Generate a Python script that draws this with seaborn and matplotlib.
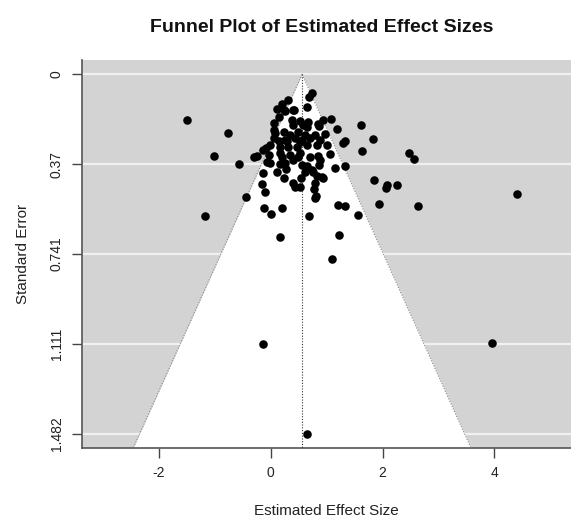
import matplotlib
matplotlib.use("Agg")
import matplotlib.pyplot as plt
import seaborn as sns
import numpy as np
import pandas as pd

# effect sizes and standard errors
effect = [
    -1.49, -0.76, -1.01, -0.56, -1.18, -0.44, -0.12, 0.01, 0.20, 0.17,
    0.69, 1.21, 1.33, 1.22, 1.56, 1.10, 1.93, 1.85, 2.07, 2.08,
    2.25, 2.63, 2.47, 2.56, 4.41, 1.62, 1.82, 1.63, -0.14, 3.96,
    0.65,
    0.74, 0.68, 0.65, 0.30, 0.20, 0.11, 0.23, 0.40, 0.15, 0.05,
    0.38, 0.52, 0.40, 0.58, 0.65, 0.94, 1.07, 0.87, 1.19, 1.33,
    1.30, 0.08, 0.23, 0.35, 0.49, 0.61, 0.79, 0.97, 0.05, 0.26,
    0.43, 0.55, 0.70, 0.88, -0.01, 0.17, 0.31, 0.47, 0.65, 0.83,
    1.00, -0.08, -0.14, -0.25, -0.30, -0.04, 0.17, 0.35, 0.52, 0.70,
    0.85, 1.06, -0.02, 0.17, 0.26, 0.55, 0.65, 0.87, 1.33, 1.15,
    -0.13, 0.11, 0.61, 0.76, 0.24, 0.54, 0.83, 0.94, -0.16, 0.40,
    0.43, 0.52, 0.79, 0.78, -0.10, 0.81, 0.73, 0.64, 0.28,
    0.26, 0.41, 0.67, 0.29, 0.14, 0.52, 0.20, 0.49, 0.40, -0.07,
    0.88, 0.91, 0.79, 0.84, 0.05,
]
std_err = [
    0.189, 0.242, 0.337, 0.369, 0.584, 0.505, 0.550, 0.577, 0.550, 0.672,
    0.584, 0.540, 0.542, 0.663, 0.581, 0.762, 0.534, 0.437, 0.467, 0.457,
    0.456, 0.542, 0.325, 0.349, 0.493, 0.211, 0.266, 0.316, 1.111, 1.108,
    1.482,
    0.079, 0.094, 0.136, 0.105, 0.122, 0.142, 0.146, 0.146, 0.174, 0.201,
    0.187, 0.194, 0.208, 0.208, 0.219, 0.187, 0.183, 0.215, 0.225, 0.274,
    0.284, 0.242, 0.236, 0.249, 0.236, 0.249, 0.249, 0.247, 0.263, 0.270,
    0.263, 0.270, 0.263, 0.270, 0.291, 0.298, 0.298, 0.298, 0.291, 0.291,
    0.291, 0.305, 0.311, 0.335, 0.339, 0.332, 0.325, 0.332, 0.325, 0.339,
    0.335, 0.329, 0.366, 0.371, 0.366, 0.373, 0.380, 0.373, 0.378, 0.387,
    0.408, 0.404, 0.404, 0.404, 0.428, 0.426, 0.418, 0.428, 0.453, 0.449,
    0.463, 0.463, 0.449, 0.473, 0.484, 0.502, 0.394, 0.385, 0.389,
    0.153, 0.149, 0.197, 0.277, 0.277, 0.280, 0.339, 0.342, 0.353, 0.360,
    0.355, 0.424, 0.510, 0.205, 0.229,
]
df = pd.DataFrame({"effect": effect, "se": std_err})

center = 0.56
se_ticks = [0, 0.3705, 0.741, 1.1115, 1.482]
se_labels = ["0", "0.37", "0.741", "1.111", "1.482"]
x_ticks = [-2, 0, 2, 4]

sns.set_style("ticks")
plt.rcParams["font.family"] = ["Liberation Sans", "DejaVu Sans"]
plt.rcParams["axes.unicode_minus"] = False

fig = plt.figure(figsize=(5.71, 5.20), dpi=100)
ax = fig.add_axes([0.1436, 0.1385, 0.8564, 0.7461])

xlim = (-3.376, 5.37)
ylim = (1.541, -0.059)
ax.set_xlim(xlim)
ax.set_ylim(ylim)
ax.set_facecolor("#d3d3d3")

# white grid lines at the SE ticks, then the funnel on top
for t in se_ticks:
    ax.axhline(t, color="#f0f0f0", lw=1.6, zorder=1)

se_bottom = ylim[0]
se_line = np.array([0, se_bottom])
ax.fill_betweenx(se_line, center - 1.96 * se_line, center + 1.96 * se_line,
                 color="white", zorder=2, lw=0)
ax.plot(center - 1.96 * se_line, se_line, ls=(0, (1, 1.5)), color="#8a8a8a", lw=0.8, zorder=3)
ax.plot(center + 1.96 * se_line, se_line, ls=(0, (1, 1.5)), color="#8a8a8a", lw=0.8, zorder=3)
ax.plot([center, center], [0, se_bottom], ls=(0, (1, 1.5)), color="#333333", lw=0.8, zorder=3)

sns.scatterplot(data=df, x="effect", y="se", ax=ax, color="black", s=38,
                edgecolor="black", linewidth=0, zorder=4, legend=False)
ax.set_xlim(xlim)
ax.set_ylim(ylim)

ax.set_yticks(se_ticks)
ax.set_yticklabels(se_labels, rotation=90, va="center")
ax.set_xticks(x_ticks)
ax.tick_params(axis="both", direction="out", length=7, width=1, color="#444444",
               labelsize=10, pad=6, labelcolor="#222222")

for side in ["top", "right"]:
    ax.spines[side].set_visible(False)
for side in ["left", "bottom"]:
    ax.spines[side].set_color("#555555")
    ax.spines[side].set_linewidth(1.2)

ax.set_xlabel("Estimated Effect Size", fontsize=11, labelpad=17, color="#222222")
ax.set_ylabel("Standard Error", fontsize=11, labelpad=14, color="#222222")
fig.text(0.564, 0.948, "Funnel Plot of Estimated Effect Sizes", ha="center",
         va="center", fontsize=14, fontweight="bold", color="#111111")

fig.savefig("out.png", dpi=100)
plt.close(fig)
